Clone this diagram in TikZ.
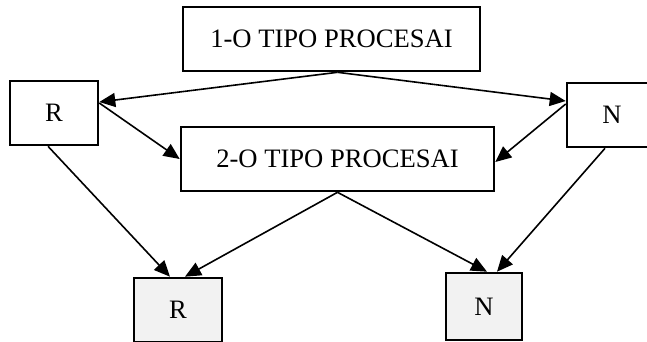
\documentclass[tikz,border=0pt]{standalone}
\usepackage{fontspec}
\setmainfont{Liberation Serif}
\usetikzlibrary{arrows.meta}

\begin{document}
\begin{tikzpicture}[x=0.5pt,y=-0.5pt,
    every node/.style={draw,line width=1.3pt,minimum height=32pt,inner sep=2pt,
        font=\fontsize{13.3}{16}\selectfont},
    arr/.style={-{Triangle[length=8pt,width=7pt]},line width=0.8pt}]
            \useasboundingbox (0,0) rectangle (647,342);
            \node[minimum width=148.5pt](p1) at (331.5,39) {1-O TIPO PROCESAI};
            \node[minimum width=156.5pt](p2) at (337.5,159) {2-O TIPO PROCESAI};
            \node[minimum width=44pt](r1) at (54,113) {R};
            \node[minimum width=45pt](n1) at (612,115) {N};
            \node[minimum width=44pt,fill=gray!10](r2) at (178,310) {R};
            \node[minimum width=38pt,minimum height=33.5pt,fill=gray!10](n2) at (484,306.5) {N};
            \draw [arr]([xshift=3pt]p1.south)to([yshift=5.5pt]r1.east);
            \draw [arr]([xshift=3pt]p1.south)to([yshift=7pt]n1.west);
            \draw [arr]([yshift=5pt]r1.east)to(p2.west);
            \draw [arr]([yshift=5.5pt]n1.west)to([yshift=-1.5pt]p2.east);
            \draw [arr]([xshift=-3pt]r1.south)to([xshift=-4pt]r2.north);
            \draw [arr](p2.south)to([xshift=3.5pt]r2.north);
            \draw [arr](p2.south)to([xshift=1.5pt]n2.north);
            \draw [arr]([xshift=-3.5pt]n1.south)to([xshift=6.5pt]n2.north);
        \end{tikzpicture}
\end{document}
